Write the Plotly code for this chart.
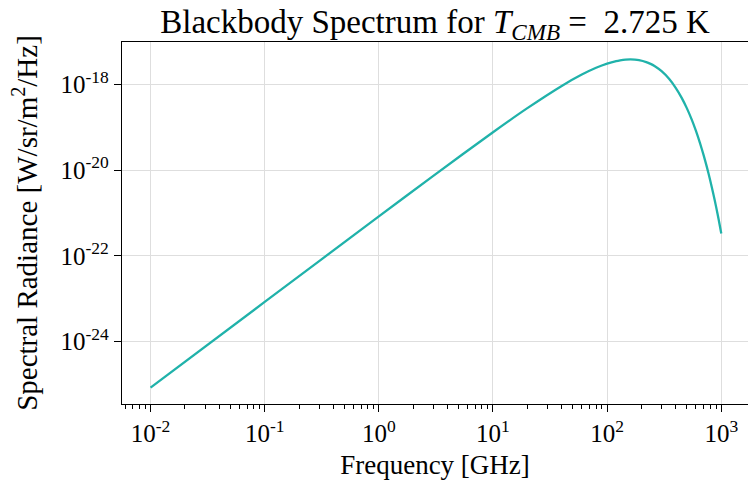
import plotly.graph_objects as go

# Data (frequency in GHz, spectral radiance in W/sr/m^2/Hz)
freq_ghz = [0.01, 0.1, 1, 3, 10, 20, 40, 60, 80, 100, 120, 130, 145, 160, 175, 190,
            220, 240, 260, 300, 350, 400, 450, 500, 550, 600, 650, 700, 750, 800,
            850, 900, 950, 1000]
radiance = [8.37e-26, 8.37e-24, 8.30e-22, 7.34e-21, 7.657e-20, 2.794e-19, 9.227e-19,
            1.697e-18, 2.442e-18, 3.059e-18, 3.502e-18, 3.652e-18, 3.792e-18, 3.837e-18,
            3.799e-18, 3.692e-18, 3.329e-18, 3.020e-18, 2.688e-18, 2.030e-18, 1.333e-18,
            8.234e-19, 4.855e-19, 2.761e-19, 1.524e-19, 8.196e-20, 4.321e-20, 2.237e-20,
            1.141e-20, 5.737e-21, 2.854e-21, 1.403e-21, 6.849e-22, 3.308e-22]

x_tick_vals = [1e-2, 1e-1, 1e0, 1e1, 1e2, 1e3]
x_tick_text = ["10<sup>-2</sup>", "10<sup>-1</sup>", "10<sup>0</sup>",
               "10<sup>1</sup>", "10<sup>2</sup>", "10<sup>3</sup>"]
x_minor_vals = [m * 10.0 ** e for e in range(-3, 4) for m in range(2, 10)]
y_tick_vals = [1e-24, 1e-22, 1e-20, 1e-18]
y_tick_text = ["10<sup>-24</sup>", "10<sup>-22</sup>", "10<sup>-20</sup>", "10<sup>-18</sup>"]

title_text = "Blackbody Spectrum for <i>T</i><sub><i>CMB</i></sub> =  2.725 K"
x_label = "Frequency [GHz]"
y_label = "Spectral Radiance [W/sr/m<sup>2</sup>/Hz]"

FONT = "Liberation Serif"

fig = go.Figure()
fig.add_trace(go.Scatter(
    x=freq_ghz, y=radiance, mode="lines",
    line=dict(color="#20B2AA", width=2.3, shape="spline", smoothing=0.6),
    showlegend=False, hoverinfo="skip",
))

fig.update_layout(
    width=748, height=482,
    margin=dict(l=122, r=0, t=42, b=78),
    paper_bgcolor="white", plot_bgcolor="white",
    font=dict(family=FONT, size=25, color="black"),
    title=dict(text=title_text, x=0.5, xanchor="center", xref="paper",
               y=1, yref="paper", yanchor="bottom", pad=dict(b=9),
               font=dict(family=FONT, size=33, color="black")),
)

fig.update_xaxes(
    type="log", range=[-2.25, 3.234],
    tickmode="array", tickvals=x_tick_vals, ticktext=x_tick_text,
    ticks="outside", ticklen=7, tickwidth=1.3, tickcolor="black",
    showline=True, linecolor="black", linewidth=1.3, mirror=True,
    showgrid=True, gridcolor="#dedede", gridwidth=1,
    zeroline=False,
    tickfont=dict(family=FONT, size=25),
    minor=dict(tickmode="array", tickvals=x_minor_vals, ticks="outside",
               ticklen=4, tickwidth=1, tickcolor="black", showgrid=False),
    title=dict(text=x_label, font=dict(family=FONT, size=27), standoff=8),
)

fig.update_yaxes(
    type="log", range=[-25.46, -17.01],
    tickmode="array", tickvals=y_tick_vals, ticktext=y_tick_text,
    ticks="outside", ticklen=7, tickwidth=1.3, tickcolor="black",
    showline=True, linecolor="black", linewidth=1.3, mirror=False,
    showgrid=True, gridcolor="#dedede", gridwidth=1,
    zeroline=False,
    tickfont=dict(family=FONT, size=25),
    title=dict(text=y_label, font=dict(family=FONT, size=29), standoff=14),
)

fig.write_html("out.html")
